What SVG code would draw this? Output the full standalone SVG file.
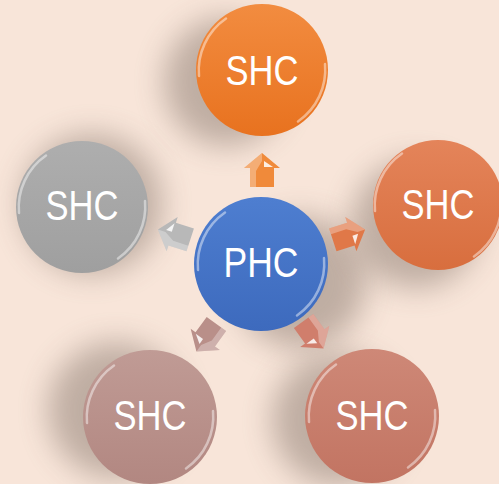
<svg xmlns="http://www.w3.org/2000/svg" xmlns:xlink="http://www.w3.org/1999/xlink" width="499" height="484" viewBox="0 0 499 484">
  <defs>
    <style>
      .label { font-family: "Liberation Sans Narrow", "Liberation Sans", Arial, sans-serif; font-size: 42px; fill: #ffffff; text-anchor: middle; }
      .gloss { fill: none; stroke: #ffffff; stroke-width: 2.5; stroke-linecap: round; opacity: 0.45; }
      .shadow { fill: #7a6a61; opacity: 0.45; filter: url(#soft); }
      .facet { fill: #ffffff; opacity: 0.3; }
      .glint { fill: #ffffff; opacity: 0.85; }
    </style>
    <filter id="soft" x="-50%" y="-50%" width="200%" height="200%">
      <feGaussianBlur stdDeviation="15"/>
    </filter>
    <linearGradient id="gTop" x1="0" y1="0" x2="0" y2="1">
      <stop offset="0" stop-color="#F28C40"/>
      <stop offset="1" stop-color="#E8721F"/>
    </linearGradient>
    <linearGradient id="gRight" x1="0" y1="0" x2="0" y2="1">
      <stop offset="0" stop-color="#E4845A"/>
      <stop offset="1" stop-color="#D86E3E"/>
    </linearGradient>
    <linearGradient id="gBR" x1="0" y1="0" x2="0" y2="1">
      <stop offset="0" stop-color="#CE8877"/>
      <stop offset="1" stop-color="#C27462"/>
    </linearGradient>
    <linearGradient id="gBL" x1="0" y1="0" x2="0" y2="1">
      <stop offset="0" stop-color="#C09B95"/>
      <stop offset="1" stop-color="#B28781"/>
    </linearGradient>
    <linearGradient id="gLeft" x1="0" y1="0" x2="0" y2="1">
      <stop offset="0" stop-color="#AEAEAE"/>
      <stop offset="1" stop-color="#9F9F9F"/>
    </linearGradient>
    <linearGradient id="gCenter" x1="0" y1="0" x2="0" y2="1">
      <stop offset="0" stop-color="#4E7ED0"/>
      <stop offset="1" stop-color="#3D6ABD"/>
    </linearGradient>
    <!-- glossy edge highlights for a disc of radius ~66 centred at origin -->
    <g id="shine">
      <path class="gloss" d="M -63 6 A 63 63 0 0 1 -36 -51.5"/>
      <path class="gloss" d="M 63 -6 A 63 63 0 0 1 36 51.5"/>
    </g>
    <!-- block arrow pointing right, centred at origin -->
    <g id="arrow">
      <polygon points="-16,-12 3,-12 3,-18 18,0 3,18 3,12 -16,12"/>
      <polygon class="facet" points="-16,-12 3,-12 3,-18 18,0 10,0 0,-6 -16,-6"/>
      <polygon class="glint" points="4,2 10,2 4,11"/>
    </g>
  </defs>

  <!-- backdrop -->
  <rect width="499" height="484" fill="#F8E5D9"/>

  <!-- soft drop shadows -->
  <g id="shadows">
    <ellipse class="shadow" cx="226" cy="82" rx="62" ry="64"/>
    <ellipse class="shadow" cx="92" cy="204" rx="70" ry="70"/>
    <ellipse class="shadow" cx="300" cy="282" rx="66" ry="66"/>
    <ellipse class="shadow" cx="416" cy="224" rx="64" ry="64"/>
    <ellipse class="shadow" cx="338" cy="420" rx="66" ry="66"/>
    <ellipse class="shadow" cx="116" cy="410" rx="68" ry="68"/>
  </g>

  <!-- arrows from the centre towards each outer disc -->
  <g id="connectors">
    <use xlink:href="#arrow" fill="#F08A3A" transform="translate(262,171) rotate(-90)"/>
    <use xlink:href="#arrow" fill="#E07848" transform="translate(348,235) rotate(-18)"/>
    <use xlink:href="#arrow" fill="#B8B8B8" transform="translate(175,235) rotate(198)"/>
    <use xlink:href="#arrow" fill="#B98F89" transform="translate(207,337) rotate(126)"/>
    <use xlink:href="#arrow" fill="#D07E6C" transform="translate(313,334) rotate(54)"/>
  </g>

  <g id="shc-top" transform="translate(262,70)">
    <circle r="66" fill="url(#gTop)"/>
    <use xlink:href="#shine"/>
    <text class="label" y="15" textLength="73" lengthAdjust="spacingAndGlyphs">SHC</text>
  </g>

  <g id="shc-left" transform="translate(82,207)">
    <circle r="66" fill="url(#gLeft)"/>
    <use xlink:href="#shine"/>
    <text class="label" y="13" textLength="73" lengthAdjust="spacingAndGlyphs">SHC</text>
  </g>

  <g id="shc-right" transform="translate(438,205)">
    <circle r="65" fill="url(#gRight)"/>
    <use xlink:href="#shine"/>
    <text class="label" y="14" textLength="73" lengthAdjust="spacingAndGlyphs">SHC</text>
  </g>

  <g id="phc" transform="translate(261,264)">
    <circle r="67" fill="url(#gCenter)"/>
    <use xlink:href="#shine"/>
    <text class="label" y="13" textLength="75" lengthAdjust="spacingAndGlyphs">PHC</text>
  </g>

  <g id="shc-bottom-left" transform="translate(150,417)">
    <circle r="67" fill="url(#gBL)"/>
    <use xlink:href="#shine"/>
    <text class="label" y="13" textLength="73" lengthAdjust="spacingAndGlyphs">SHC</text>
  </g>

  <g id="shc-bottom-right" transform="translate(372,416)">
    <circle r="67" fill="url(#gBR)"/>
    <use xlink:href="#shine"/>
    <text class="label" y="14" textLength="73" lengthAdjust="spacingAndGlyphs">SHC</text>
  </g>
</svg>
